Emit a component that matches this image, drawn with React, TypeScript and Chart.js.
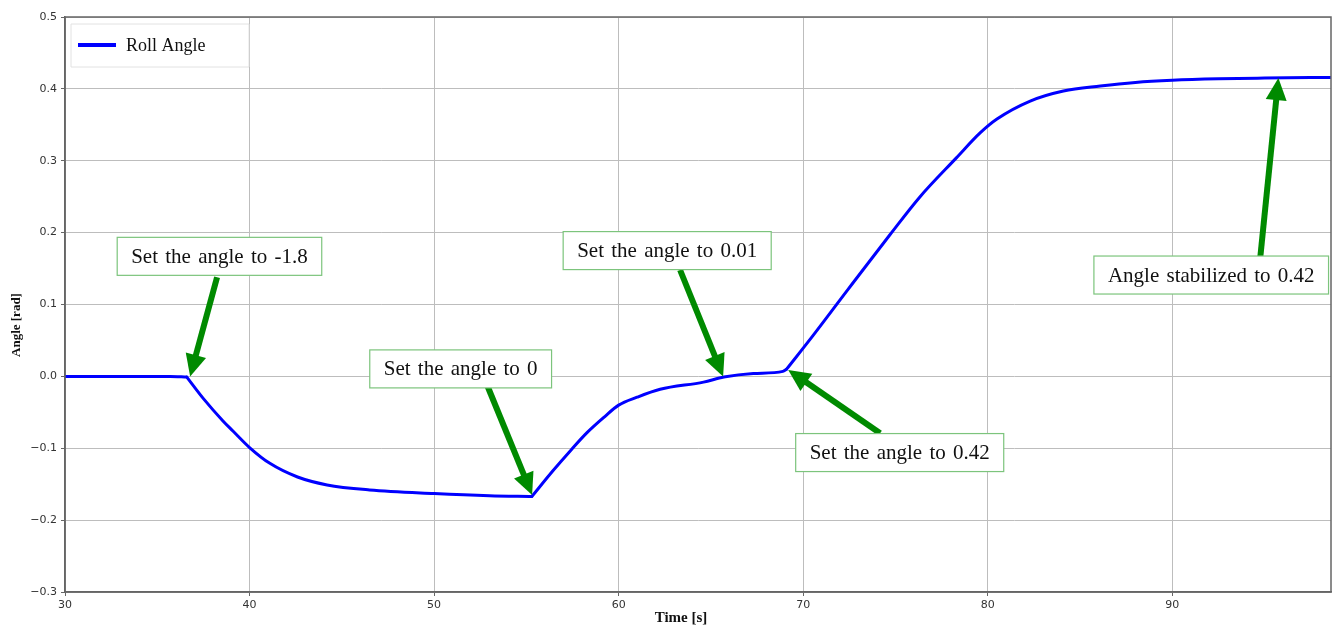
import React, { useEffect, useRef } from "react";
import { Chart, registerables } from "chart.js";

Chart.register(...registerables);

// ---- data ----
const timeS = [
  30, 32, 34, 35.7, 36.6, 37.5, 38.56, 39.1, 40.0, 41.1, 42.6, 44.2, 46.5, 50, 53, 55.3,
  56.45, 57.4, 58.3, 59.2, 60.0, 61.0, 62.25, 64.6, 65.7, 67.3, 68.9, 69.1,
  70.54, 72.4, 74.7, 76.3, 78.3, 79.6, 80.5, 82.3, 84.1, 86.1, 88, 90, 92.5, 95, 98.6,
];
const rollAngle = [
  0, 0, 0, 0, -0.001, -0.031, -0.062, -0.076, -0.099, -0.121, -0.14, -0.151, -0.158, -0.163, -0.166, -0.167,
  -0.131, -0.103, -0.078, -0.057, -0.04, -0.029, -0.018, -0.008, -0.001, 0.004, 0.007, 0.01,
  0.057, 0.12, 0.197, 0.249, 0.304, 0.339, 0.358, 0.383, 0.397, 0.404, 0.409, 0.412, 0.414, 0.415, 0.416,
];
// set-point changes where the curve has a sharp corner
const kinkTimes = [36.6, 55.3, 69.1];
const xTicks = [30, 40, 50, 60, 70, 80, 90];
const yTicks = [-0.3, -0.2, -0.1, 0.0, 0.1, 0.2, 0.3, 0.4, 0.5];
const seriesLabel = "Roll Angle";
const xTitle = "Time [s]";
const yTitle = "Angle [rad]";

// annotation texts, arrow tips/tails and box centres in data coordinates
const noteTexts = [
  "Set the angle to -1.8",
  "Set the angle to 0",
  "Set the angle to 0.01",
  "Set the angle to 0.42",
  "Angle stabilized to 0.42",
];
const noteTips = [
  [36.78, 0.0],
  [55.31, -0.165],
  [65.66, 0.0],
  [69.19, 0.009],
  [95.75, 0.415],
];
const noteTails = [
  [38.24, 0.138],
  [52.87, -0.012],
  [63.33, 0.148],
  [74.17, -0.079],
  [94.77, 0.166],
];
const noteBoxes = [
  [38.37, 0.167],
  [51.44, 0.0104],
  [62.63, 0.175],
  [75.23, -0.106],
  [92.11, 0.141],
];

const SERIF = '"Liberation Serif", "Times New Roman", serif';
const SANS = '"DejaVu Sans", sans-serif';

const decorPlugin = {
  id: "decor",
  afterDatasetsDraw(chart: any) {
    const { ctx, chartArea, scales } = chart;
    const xs = scales.x;
    const ys = scales.y;
    ctx.save();
    // frame (all four spines)
    ctx.strokeStyle = "#666";
    ctx.lineWidth = 1.5;
    ctx.strokeRect(chartArea.left, chartArea.top, chartArea.right - chartArea.left, chartArea.bottom - chartArea.top);

    // legend
    const lx = chartArea.left + 6;
    const ly = chartArea.top + 7;
    ctx.fillStyle = "rgba(255,255,255,0.9)";
    ctx.strokeStyle = "#e2e2e2";
    ctx.lineWidth = 1;
    ctx.beginPath();
    ctx.rect(lx, ly, 178, 43);
    ctx.fill();
    ctx.stroke();
    ctx.strokeStyle = "#0000ff";
    ctx.lineWidth = 4;
    ctx.beginPath();
    ctx.moveTo(lx + 7, ly + 21);
    ctx.lineTo(lx + 45, ly + 21);
    ctx.stroke();
    ctx.fillStyle = "#111";
    ctx.font = `18px ${SERIF}`;
    ctx.textBaseline = "middle";
    ctx.textAlign = "left";
    ctx.fillText(seriesLabel, lx + 55, ly + 22);

    // annotations
    ctx.font = `21px ${SERIF}`;
    (ctx as any).wordSpacing = "2px";
    noteTexts.forEach((text, i) => {
      const tx = xs.getPixelForValue(noteTips[i][0]);
      const ty = ys.getPixelForValue(noteTips[i][1]);
      const sx = xs.getPixelForValue(noteTails[i][0]);
      const sy = ys.getPixelForValue(noteTails[i][1]);
      const bx = xs.getPixelForValue(noteBoxes[i][0]);
      const by = ys.getPixelForValue(noteBoxes[i][1]);

      // arrow
      const dx = tx - sx;
      const dy = ty - sy;
      const len = Math.hypot(dx, dy);
      const ux = dx / len;
      const uy = dy / len;
      const headL = 22;
      const headW = 10.5;
      const baseX = tx - ux * headL;
      const baseY = ty - uy * headL;
      ctx.strokeStyle = "#008a00";
      ctx.fillStyle = "#008a00";
      ctx.lineWidth = 6;
      ctx.lineCap = "butt";
      ctx.beginPath();
      ctx.moveTo(sx, sy);
      ctx.lineTo(baseX + ux * 2, baseY + uy * 2);
      ctx.stroke();
      ctx.beginPath();
      ctx.moveTo(tx, ty);
      ctx.lineTo(baseX - uy * headW, baseY + ux * headW);
      ctx.lineTo(baseX + uy * headW, baseY - ux * headW);
      ctx.closePath();
      ctx.fill();

      // box
      const w = ctx.measureText(text).width + 28;
      const h = 38;
      ctx.fillStyle = "#ffffff";
      ctx.fillRect(bx - w / 2, by - h / 2, w, h);
      ctx.strokeStyle = "#7cc47c";
      ctx.lineWidth = 1.2;
      ctx.strokeRect(bx - w / 2, by - h / 2, w, h);
      ctx.fillStyle = "#111";
      ctx.textAlign = "center";
      ctx.textBaseline = "middle";
      ctx.fillText(text, bx, by + 1);
    });
    (ctx as any).wordSpacing = "0px";

    // axis titles
    ctx.fillStyle = "#111";
    ctx.font = `bold 15px ${SERIF}`;
    ctx.textAlign = "center";
    ctx.textBaseline = "middle";
    ctx.fillText(xTitle, 681, 618);
    ctx.save();
    ctx.translate(17, 325);
    ctx.rotate(-Math.PI / 2);
    ctx.font = `bold 13px ${SERIF}`;
    ctx.fillText(yTitle, 0, 0);
    ctx.restore();
    ctx.restore();
  },
};

const fmt = (v: number) => {
  const s = Number(v).toFixed(1);
  return s === "-0.0" ? "0.0" : s.replace("-", "\u2212");
};

// split the series at the set-point changes so each piece is smoothed on its own
function buildSegments() {
  const bounds = [timeS[0], ...kinkTimes, timeS[timeS.length - 1]];
  const segs: { x: number; y: number }[][] = [];
  for (let k = 0; k < bounds.length - 1; k++) {
    const a = bounds[k];
    const b = bounds[k + 1];
    segs.push(
      timeS
        .map((t, i) => ({ x: t, y: rollAngle[i] }))
        .filter((p) => p.x >= a && p.x <= b)
    );
  }
  return segs;
}

export default function App() {
  const ref = useRef<HTMLCanvasElement | null>(null);
  useEffect(() => {
    if (!ref.current) return;
    const chart = new Chart(ref.current, {
      type: "line",
      data: {
        datasets: buildSegments().map((seg) => ({
          label: seriesLabel,
          data: seg,
          borderColor: "#0000ff",
          borderWidth: 3,
          pointRadius: 0,
          cubicInterpolationMode: "monotone",
          borderJoinStyle: "round",
          borderCapStyle: "round",
          fill: false,
        })),
      },
      options: {
        animation: false,
        responsive: false,
        maintainAspectRatio: false,
        layout: { padding: { top: 17, right: 2, left: 0, bottom: 0 } },
        plugins: { legend: { display: false }, tooltip: { enabled: false } },
        scales: {
          x: {
            type: "linear",
            min: 30,
            max: 98.6,
            afterFit: (s: any) => {
              s.height = 36;
            },
            afterBuildTicks: (s: any) => {
              s.ticks = xTicks.map((v) => ({ value: v }));
            },
            grid: { color: "#bdbdbd", lineWidth: 1, tickLength: 4, tickColor: "#666" },
            border: { color: "#666", width: 1.5 },
            ticks: {
              padding: 3,
              color: "#333",
              font: { family: SANS, size: 11 },
              callback: (v: any) => String(v),
              maxRotation: 0,
            },
          },
          y: {
            type: "linear",
            min: -0.3,
            max: 0.5,
            afterFit: (s: any) => {
              s.width = 65;
            },
            afterBuildTicks: (s: any) => {
              s.ticks = yTicks.map((v) => ({ value: v }));
            },
            grid: { color: "#bdbdbd", lineWidth: 1, tickLength: 4, tickColor: "#666" },
            border: { color: "#666", width: 1.5 },
            ticks: {
              padding: 4,
              color: "#333",
              font: { family: SANS, size: 11 },
              callback: (v: any) => fmt(v),
            },
          },
        },
      } as any,
      plugins: [decorPlugin],
    });
    return () => chart.destroy();
  }, []);
  return (
    <div style={{ position: "fixed", left: 0, top: 0, width: 1333, height: 628, background: "#fff" }}>
      <canvas ref={ref} width={1333} height={628} style={{ width: 1333, height: 628, display: "block" }} />
    </div>
  );
}
